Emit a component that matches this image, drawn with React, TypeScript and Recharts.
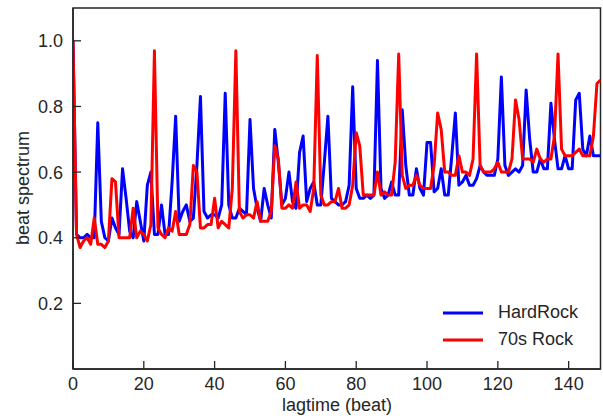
import React from 'react';
import { LineChart, Line, XAxis, YAxis, ReferenceArea, Legend } from 'recharts';

const lagBeats = Array.from({ length: 150 }, (_, i) => i);

const hardRock = [
  1.0, 0.41, 0.40, 0.40, 0.41, 0.40, 0.40, 0.75, 0.45, 0.40,
  0.39, 0.46, 0.43, 0.41, 0.61, 0.52, 0.42, 0.40, 0.51, 0.45,
  0.39, 0.56, 0.60, 0.41, 0.41, 0.50, 0.41, 0.41, 0.57, 0.77,
  0.45, 0.48, 0.50, 0.45, 0.46, 0.62, 0.83, 0.48, 0.46, 0.47,
  0.47, 0.46, 0.50, 0.84, 0.50, 0.46, 0.46, 0.49, 0.48, 0.47,
  0.76, 0.55, 0.49, 0.45, 0.55, 0.50, 0.46, 0.73, 0.63, 0.50,
  0.52, 0.60, 0.51, 0.49, 0.66, 0.71, 0.51, 0.55, 0.57, 0.50,
  0.50, 0.63, 0.77, 0.52, 0.51, 0.50, 0.50, 0.51, 0.56, 0.86,
  0.55, 0.52, 0.52, 0.53, 0.52, 0.53, 0.94, 0.55, 0.52, 0.53,
  0.57, 0.53, 0.53, 0.79, 0.62, 0.53, 0.53, 0.61, 0.55, 0.53,
  0.69, 0.69, 0.54, 0.55, 0.61, 0.53, 0.53, 0.65, 0.78, 0.56,
  0.57, 0.59, 0.56, 0.56, 0.58, 0.62, 0.60, 0.59, 0.59, 0.59,
  0.64, 0.89, 0.62, 0.59, 0.60, 0.61, 0.60, 0.62, 0.85, 0.70,
  0.60, 0.60, 0.64, 0.61, 0.61, 0.81, 0.70, 0.61, 0.61, 0.65,
  0.61, 0.61, 0.82, 0.84, 0.67, 0.65, 0.71, 0.65, 0.65, 0.65,
];

const rock70s = [
  1.0, 0.41, 0.37, 0.39, 0.40, 0.38, 0.46, 0.38, 0.38, 0.37,
  0.39, 0.58, 0.57, 0.40, 0.40, 0.40, 0.40, 0.49, 0.40, 0.42,
  0.41, 0.39, 0.44, 0.97, 0.43, 0.41, 0.40, 0.43, 0.42, 0.48,
  0.41, 0.41, 0.41, 0.44, 0.62, 0.60, 0.43, 0.43, 0.44, 0.44,
  0.52, 0.43, 0.45, 0.44, 0.43, 0.55, 0.97, 0.48, 0.46, 0.47,
  0.47, 0.46, 0.51, 0.45, 0.45, 0.45, 0.48, 0.68, 0.64, 0.49,
  0.49, 0.50, 0.49, 0.57, 0.49, 0.50, 0.50, 0.48, 0.55, 0.955,
  0.53, 0.50, 0.50, 0.51, 0.51, 0.55, 0.49, 0.49, 0.50, 0.56,
  0.72, 0.68, 0.53, 0.53, 0.53, 0.53, 0.60, 0.53, 0.54, 0.53,
  0.53, 0.63, 0.96, 0.59, 0.55, 0.56, 0.56, 0.59, 0.56, 0.55,
  0.55, 0.55, 0.62, 0.78, 0.73, 0.60, 0.60, 0.59, 0.59, 0.65,
  0.60, 0.60, 0.59, 0.64, 0.96, 0.62, 0.60, 0.60, 0.60, 0.61,
  0.63, 0.60, 0.60, 0.60, 0.64, 0.82, 0.76, 0.64, 0.64, 0.64,
  0.63, 0.67, 0.64, 0.63, 0.64, 0.64, 0.71, 0.96, 0.67, 0.65,
  0.65, 0.65, 0.66, 0.67, 0.65, 0.65, 0.65, 0.71, 0.87, 0.88,
];

const seriesNames = ['HardRock', '70s Rock'];
const xTicks = [0, 20, 40, 60, 80, 100, 120, 140];
const yTicks = [0.2, 0.4, 0.6, 0.8, 1.0];

const data = lagBeats.map((lag, i) => ({ lag, hardRock: hardRock[i], rock70s: rock70s[i] }));

const FONT = "'Liberation Sans', Arial, Helvetica, sans-serif";
const INK = '#262626';
const FS = 18;

const XTick = (props: any) => {
  const { x, y, payload } = props;
  return (
    <g>
      <line x1={x} x2={x} y1={y} y2={y - 8} stroke={INK} strokeWidth={1.3} />
      <text x={x} y={y + 21} textAnchor="middle" fontFamily={FONT} fontSize={FS} fill={INK}>
        {payload.value}
      </text>
    </g>
  );
};

const YTick = (props: any) => {
  const { x, y, payload } = props;
  return (
    <g>
      <line x1={x} x2={x + 8} y1={y} y2={y} stroke={INK} strokeWidth={1.3} />
      <text x={x - 10} y={y} dy="0.36em" textAnchor="end" fontFamily={FONT} fontSize={FS} fill={INK}>
        {Number(payload.value).toFixed(1)}
      </text>
    </g>
  );
};

const LegendContent = (props: any) => {
  const items = [...(props.payload || [])].sort(
    (a: any, b: any) => seriesNames.indexOf(a.value) - seriesNames.indexOf(b.value)
  );
  return (
    <div style={{ width: 160, fontFamily: FONT, fontSize: FS, color: INK }}>
      {items.map((it: any) => (
        <div key={it.value} style={{ display: 'flex', alignItems: 'center', height: 27 }}>
          <svg width={40} height={4} style={{ display: 'block' }}>
            <line x1={0} x2={40} y1={2} y2={2} stroke={it.color} strokeWidth={3} />
          </svg>
          <span style={{ marginLeft: 15, lineHeight: '27px', whiteSpace: 'nowrap' }}>{it.value}</span>
        </div>
      ))}
    </div>
  );
};

export default function App() {
  return (
    <div style={{ width: 603, height: 419, position: 'relative', background: '#fff' }}>
      <style>{`body{margin:0;background:#fff}`}</style>
      <LineChart width={603} height={419} data={data} margin={{ top: 8, right: 2.5, bottom: 0, left: 0 }}>
        <XAxis
          dataKey="lag"
          type="number"
          domain={[0, 149]}
          ticks={xTicks}
          allowDataOverflow
          height={50}
          tickSize={0}
          tickMargin={0}
          tickLine={false}
          tick={<XTick />}
          axisLine={{ stroke: INK, strokeWidth: 1.5 }}
          label={{
            content: () => (
              <text x={337} y={411} textAnchor="middle" fontFamily={FONT} fontSize={FS} fill={INK}>
                lagtime (beat)
              </text>
            ),
          }}
        />
        <YAxis
          type="number"
          domain={[0, 1.1]}
          ticks={yTicks}
          allowDataOverflow
          width={73}
          tickSize={0}
          tickMargin={0}
          tickLine={false}
          tick={<YTick />}
          axisLine={{ stroke: INK, strokeWidth: 1.5 }}
          label={{
            content: () => (
              <text
                x={23}
                y={188}
                transform="rotate(-90 23 188)"
                textAnchor="middle"
                dominantBaseline="central"
                fontFamily={FONT}
                fontSize={FS}
                fill={INK}
              >
                beat spectrum
              </text>
            ),
          }}
        />
        <ReferenceArea x1={0} x2={149} y1={0} y2={1.1} fill="none" stroke={INK} strokeWidth={1.5} ifOverflow="visible" />
        <Line
          type="linear"
          dataKey="hardRock"
          name={seriesNames[0]}
          stroke="#0000ff"
          strokeWidth={3}
          dot={false}
          strokeLinejoin="round"
          isAnimationActive={false}
        />
        <Line
          type="linear"
          dataKey="rock70s"
          name={seriesNames[1]}
          stroke="#ff0000"
          strokeWidth={3}
          dot={false}
          strokeLinejoin="round"
          isAnimationActive={false}
        />
        <Legend
          layout="vertical"
          align="center"
          verticalAlign="middle"
          content={<LegendContent />}
          wrapperStyle={{ left: 443, top: 299, width: 160 }}
        />
      </LineChart>
    </div>
  );
}
